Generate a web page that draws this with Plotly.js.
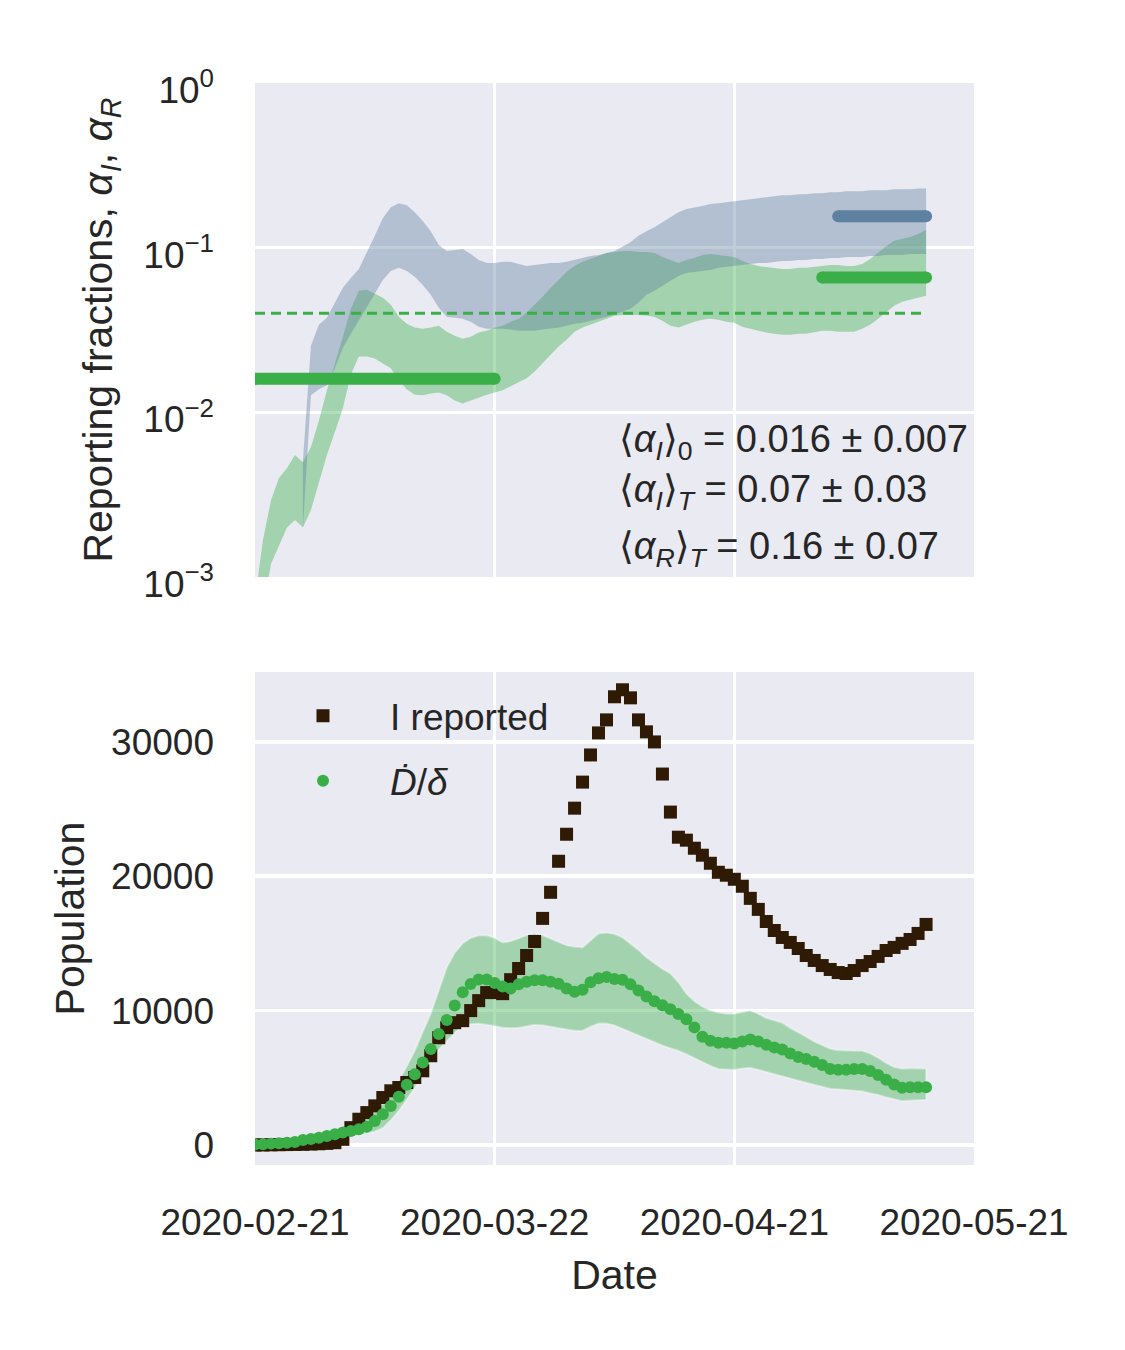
<!DOCTYPE html>
<html><head><meta charset="utf-8">
<script src="https://cdn.plot.ly/plotly-3.0.1.min.js"></script>
<style>body{margin:0;background:#fff}</style>
</head><body>
<div id="chart" style="width:1125px;height:1350px"></div>
<script>
// ---------- data ----------
const startDate = '2020-02-21';
const nDays = 85;
const xTickVals = ['2020-02-21', '2020-03-22', '2020-04-21', '2020-05-21'];
const xTickText = ['2020-02-21', '2020-03-22', '2020-04-21', '2020-05-21'];
const xRange = ['2020-02-21', '2020-05-21'];

// top panel: reporting fraction alpha_I (95% band), from day 0
const alphaI_lower = [0.0004,0.00063,0.0012,0.00157,0.0020,0.00222,0.0020,0.00255,0.0037,0.0055,
  0.0076,0.0106,0.0170,0.0218,0.0218,0.0212,0.0198,0.0185,0.0156,0.0138,
  0.0128,0.0127,0.0130,0.0132,0.0127,0.0118,0.0113,0.0118,0.0123,0.0128,
  0.0132,0.0136,0.0144,0.0152,0.0161,0.0177,0.0198,0.0224,0.0251,0.0276,
  0.0309,0.0327,0.0341,0.0355,0.0370,0.0386,0.0390,0.0392,0.0390,0.0388,
  0.0380,0.0360,0.0336,0.0327,0.0341,0.0355,0.0365,0.0370,0.0365,0.0355,
  0.0350,0.0331,0.0322,0.0313,0.0305,0.0300,0.0296,0.0296,0.0300,0.0300,
  0.0305,0.0313,0.0313,0.0309,0.0309,0.0309,0.0322,0.0341,0.0370,0.0408,
  0.0444,0.0469,0.0482,0.0496,0.0511];
const alphaI_upper = [0.00073,0.00168,0.00293,0.0040,0.00458,0.0055,0.00498,0.00614,0.0089,0.0136,
  0.0198,0.0288,0.0426,0.0547,0.0555,0.0525,0.0496,0.0450,0.0381,0.0345,
  0.0327,0.0322,0.0327,0.0336,0.0309,0.0292,0.0280,0.0288,0.0305,0.0313,
  0.0327,0.0336,0.0355,0.0370,0.0403,0.0450,0.0503,0.0571,0.0637,0.0713,
  0.0775,0.0820,0.0854,0.0891,0.0929,0.0942,0.0955,0.0955,0.0942,0.0942,
  0.0929,0.0879,0.0843,0.0808,0.0843,0.0866,0.0903,0.0916,0.0903,0.0891,
  0.0879,0.0831,0.0797,0.0775,0.0764,0.0754,0.0743,0.0743,0.0754,0.0754,
  0.0764,0.0775,0.0786,0.0786,0.0775,0.0775,0.0797,0.0854,0.0929,0.102,
  0.110,0.113,0.116,0.121,0.128];

// top panel: reporting fraction alpha_R (95% band), from day 6
const alphaR_firstDay = 6;
const alphaR_lower = [0.0020,0.0127,0.0138,0.0146,
  0.0185,0.0247,0.0300,0.0360,0.0432,0.0525,0.0637,0.0723,0.0754,0.0723,
  0.0665,0.0594,0.0518,0.0432,0.0381,0.0376,0.0370,0.0355,0.0331,0.0322,
  0.0322,0.0322,0.0318,0.0313,0.0313,0.0313,0.0318,0.0322,0.0327,0.0336,
  0.0345,0.0350,0.0360,0.0370,0.0381,0.0392,0.0408,0.0426,0.0463,0.0518,
  0.0547,0.0586,0.0628,0.0674,0.0703,0.0713,0.0723,0.0733,0.0754,0.0764,
  0.0775,0.0786,0.0797,0.0808,0.0808,0.0820,0.0831,0.0831,0.0843,0.0843,
  0.0854,0.0854,0.0866,0.0866,0.0879,0.0879,0.0879,0.0891,0.0891,0.0903,
  0.0903,0.0903,0.0916,0.0916,0.0916];
const alphaR_upper = [0.0051,0.0254,0.0341,0.0376,
  0.0463,0.0571,0.0655,0.0743,0.0942,0.118,0.151,0.176,0.186,0.181,
  0.164,0.145,0.126,0.104,0.0955,0.0968,0.0982,0.0916,0.0843,0.0808,
  0.0808,0.0820,0.0820,0.0797,0.0775,0.0786,0.0797,0.0808,0.0808,0.0820,
  0.0843,0.0866,0.0891,0.0903,0.0929,0.0955,0.101,0.108,0.118,0.126,
  0.133,0.141,0.153,0.164,0.172,0.176,0.179,0.184,0.186,0.189,
  0.192,0.194,0.197,0.200,0.203,0.205,0.208,0.208,0.211,0.211,
  0.214,0.214,0.217,0.217,0.220,0.220,0.220,0.223,0.223,0.223,
  0.226,0.226,0.226,0.229,0.229];

// mean reporting fractions over windows (day indices)
const alphaI0_mean = 0.016;   const alphaI0_days = [0, 30];
const alphaIT_mean = 0.066;   const alphaIT_days = [71, 84];
const alphaRT_mean = 0.155;   const alphaRT_days = [73, 84];
const alphaRef = 0.04;        const alphaRef_days = [0, 84];

// bottom panel
const I_reported = [0,0,10,20,30,40,50,70,90,120,
  170,420,1290,1915,2410,2910,3530,4030,4275,4650,
  5020,5520,6640,7980,8730,9100,9250,10000,10740,11340,
  11340,11260,12300,13130,14100,15140,16860,18800,21110,23120,
  25060,27000,29020,30660,31630,33350,33870,33270,31630,30740,
  29990,27600,24770,22900,22680,22080,21560,20960,20290,20070,
  19770,19250,18350,17530,16630,15960,15440,15070,14620,14100,
  13730,13350,13060,12830,12760,12980,13350,13650,14030,14470,
  14700,15000,15290,15740,16410];
const D_over_delta = [30,50,100,125,170,220,370,450,545,670,
  800,920,1045,1170,1365,1790,2290,2900,3580,4475,
  5270,6140,7140,8260,9300,10370,11360,11980,12310,12310,
  12050,11800,11650,11950,12150,12250,12250,12150,12000,11650,
  11400,11550,12100,12400,12500,12350,12300,11950,11500,11050,
  10700,10400,10100,9750,9350,8750,8050,7750,7600,7600,
  7550,7700,7850,7700,7450,7250,7100,6800,6550,6400,
  6200,5950,5650,5600,5600,5650,5650,5500,5200,4850,
  4500,4250,4300,4300,4300];
const D_upper = [60,90,130,170,220,300,450,560,680,830,
  1000,1150,1350,1600,2000,2500,3060,3850,4770,5850,
  7010,8400,9770,11500,13200,14300,15000,15400,15590,15590,
  15400,15070,15150,15370,15600,15740,15600,15370,15100,14850,
  14750,14700,15200,15740,15800,15700,15440,15000,14500,13950,
  13500,13100,12760,12100,11260,10700,10300,10000,9850,9770,
  9770,9900,10000,9750,9450,9250,9100,8700,8360,8050,
  7700,7400,7160,7050,7010,7010,7010,6800,6490,6100,
  5800,5670,5700,5700,5670];
const D_lower = [10,20,40,60,90,130,200,270,340,420,
  500,580,650,750,850,1000,1270,1850,2540,3350,
  4250,5250,6270,7100,7760,8350,8880,9000,9030,8950,
  8850,8730,8700,8730,8850,8950,8900,8800,8650,8550,
  8500,8500,8800,9030,9030,8900,8650,8400,8130,7900,
  7650,7400,7200,7010,6750,6450,6150,5890,5650,5600,
  5600,5700,5740,5600,5450,5300,5100,4950,4800,4630,
  4480,4330,4180,4150,4100,4100,4000,3850,3730,3550,
  3400,3280,3300,3350,3360];

const yTopTickVals = [0.001, 0.01, 0.1, 1];
const yTopTickText = ['10<sup>−3</sup>', '10<sup>−2</sup>', '10<sup>−1</sup>', '10<sup>0</sup>'];
const yBotTickVals = [0, 10000, 20000, 30000];
const yBotTickText = ['0', '10000', '20000', '30000'];

// ---------- build ----------
function dayString(i) {
  const p = startDate.split('-').map(Number);
  return new Date(Date.UTC(p[0], p[1] - 1, p[2] + i)).toISOString().slice(0, 10);
}
const dates = Array.from({length: nDays}, (_, i) => dayString(i));
const datesR = dates.slice(alphaR_firstDay);
const rev = a => a.slice().reverse();

const GREEN = '#3aaf48';
const BLUE = '#5e81a0';
const DARK = '#2e1a05';
const FONT = 'Liberation Sans, Arial, DejaVu Sans, sans-serif';

function band(x, lo, hi, color, xa, ya, edge) {
  return {x: x.concat(rev(x)), y: lo.concat(rev(hi)), xaxis: xa, yaxis: ya,
    mode: 'lines', fill: 'toself', fillcolor: color,
    line: edge ? {color: edge, width: 2} : {width: 0, color: 'rgba(0,0,0,0)'},
    showlegend: false, hoverinfo: 'skip'};
}
function meanLine(days, val, color, width, dash) {
  const tr = {x: [dates[days[0]], dates[days[1]]], y: [val, val], xaxis: 'x', yaxis: 'y',
    mode: dash ? 'lines' : 'lines+markers', line: {color: color, width: width},
    showlegend: false, hoverinfo: 'skip'};
  if (dash) tr.line.dash = dash; else tr.marker = {size: width, color: color, symbol: 'circle'};
  return tr;
}

const traces = [
  band(dates, alphaI_lower, alphaI_upper, 'rgba(58,175,72,0.4)', 'x', 'y'),
  band(datesR, alphaR_lower, alphaR_upper, 'rgba(94,129,160,0.4)', 'x', 'y'),
  meanLine(alphaRef_days, alphaRef, GREEN, 3, '10px,6px'),
  meanLine(alphaI0_days, alphaI0_mean, GREEN, 12),
  meanLine(alphaIT_days, alphaIT_mean, GREEN, 12),
  meanLine(alphaRT_days, alphaRT_mean, BLUE, 12),
  band(dates, D_lower, D_upper, 'rgba(58,175,72,0.4)', 'x2', 'y2', 'rgba(255,255,255,0.35)'),
  {x: dates, y: I_reported, xaxis: 'x2', yaxis: 'y2', mode: 'markers', name: 'I reported',
   legendgroup: 'a', marker: {symbol: 'square', size: 13, color: DARK}, hoverinfo: 'skip'},
  {x: dates, y: D_over_delta, xaxis: 'x2', yaxis: 'y2', mode: 'markers', name: '<i>Ḋ</i>/<i>δ</i>',
   legendgroup: 'b', marker: {symbol: 'circle', size: 12, color: GREEN}, hoverinfo: 'skip'}
];

const grid = {showgrid: true, gridcolor: '#ffffff', gridwidth: 3.5, zeroline: false, showline: false, ticks: ''};

const layout = {
  width: 1125, height: 1350,
  margin: {l: 255, r: 151, t: 83, b: 185},
  paper_bgcolor: '#ffffff', plot_bgcolor: '#eaeaf2',
  font: {family: FONT, color: '#262626', size: 37},
  showlegend: true,
  hovermode: false,
  xaxis: Object.assign({}, grid, {domain: [0, 1], anchor: 'y', type: 'date', range: xRange,
    tickvals: xTickVals, ticktext: xTickText, showticklabels: false}),
  yaxis: Object.assign({}, grid, {domain: [0.5434, 1], anchor: 'x', type: 'log', range: [-3, 0],
    tickvals: yTopTickVals, ticktext: yTopTickText, ticklabelstandoff: 40, ticklabelshift: 7,
    tickfont: {size: 37},
    title: {text: 'Reporting fractions, <i>α<sub>I</sub></i>, <i>α<sub>R</sub></i>', font: {size: 41}, standoff: 17}}),
  xaxis2: Object.assign({}, grid, {domain: [0, 1], anchor: 'y2', type: 'date', range: xRange,
    tickvals: xTickVals, ticktext: xTickText, ticklabelstandoff: 32, tickfont: {size: 37},
    title: {text: 'Date', font: {size: 41}, standoff: 18}}),
  yaxis2: Object.assign({}, grid, {domain: [0, 0.4556], anchor: 'x2', range: [-1490, 35190],
    tickvals: yBotTickVals, ticktext: yBotTickText, ticklabelstandoff: 40, tickfont: {size: 37},
    title: {text: 'Population', font: {size: 41}, standoff: 13}}),
  legend: {x: 0.0014, y: 0.4435, xanchor: 'left', yanchor: 'top', bgcolor: 'rgba(0,0,0,0)',
    font: {size: 37, color: '#262626'}, itemwidth: 124, tracegroupgap: 14, traceorder: 'grouped'},
  annotations: [
    {xref: 'paper', yref: 'paper', x: 0.5035, y: 0.668, xanchor: 'left', yanchor: 'middle', showarrow: false,
     text: '⟨<i>α</i><sub><i>I</i></sub>⟩<sub>0</sub> = 0.016 ± 0.007', font: {size: 38, color: '#262626'}},
    {xref: 'paper', yref: 'paper', x: 0.5035, y: 0.622, xanchor: 'left', yanchor: 'middle', showarrow: false,
     text: '⟨<i>α</i><sub><i>I</i></sub>⟩<sub><i>T</i></sub> = 0.07 ± 0.03', font: {size: 38, color: '#262626'}},
    {xref: 'paper', yref: 'paper', x: 0.5035, y: 0.569, xanchor: 'left', yanchor: 'middle', showarrow: false,
     text: '⟨<i>α</i><sub><i>R</i></sub>⟩<sub><i>T</i></sub> = 0.16 ± 0.07', font: {size: 38, color: '#262626'}}
  ]
};

Plotly.newPlot('chart', traces, layout, {displayModeBar: false, staticPlot: true});
</script>
</body></html>
